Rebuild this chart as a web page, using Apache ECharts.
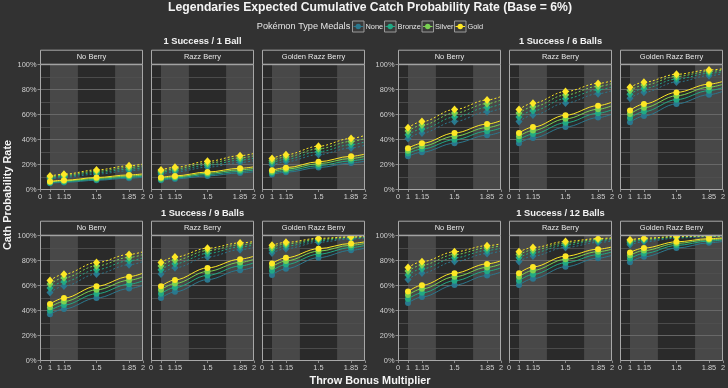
<!DOCTYPE html>
<html><head><meta charset="utf-8">
<script src="https://cdn.jsdelivr.net/npm/echarts@6/dist/echarts.min.js"></script>
<style>html,body{margin:0;padding:0;background:#323232;}#c{width:728px;height:388px;}</style>
</head><body><div id="c"></div>
<script>
const FONT = '"Liberation Sans", Arial, Helvetica, sans-serif';
const chartTitle = 'Legendaries Expected Cumulative Catch Probability Rate (Base = 6%)';
const legendTitle = 'Pokémon Type Medals';
const groupTitles = ['1 Success / 1 Ball', '1 Success / 6 Balls', '1 Success / 9 Balls', '1 Success / 12 Balls'];
const berryNames = ['No Berry', 'Razz Berry', 'Golden Razz Berry'];
const medalNames = ['None', 'Bronze', 'Silver', 'Gold'];
const medalColors = ['#2a788e', '#22a884', '#7ad151', '#fde725'];
const xPoints = [1, 1.15, 1.5, 1.85, 2];
const xTickValues = [0.8925, 1, 1.15, 1.5, 1.85, 2];
const throwBands = [[1, 1.3], [1.7, 2]];

// values in %, [berry][medal][x at 1, 1.15, 1.5, 1.85, 2]
const oneBallSolid = [
  [[5.0, 5.7, 7.4, 9.1, 9.8], [5.5, 6.3, 8.1, 9.9, 10.7], [6.0, 6.9, 8.9, 10.8, 11.6], [6.5, 7.4, 9.6, 11.7, 12.5]],
  [[7.4, 8.5, 10.9, 13.3, 14.3], [8.1, 9.3, 12.0, 14.5, 15.6], [8.9, 10.1, 13.0, 15.8, 16.9], [9.6, 10.9, 14.0, 17.0, 18.2]],
  [[12.1, 13.8, 17.6, 21.2, 22.7], [13.2, 15.0, 19.1, 23.0, 24.7], [14.3, 16.3, 20.7, 24.9, 26.6], [15.4, 17.5, 22.2, 26.6, 28.4]]
];
const oneBallCurve = [
  [[8.4, 9.6, 12.3, 15.0, 16.1], [9.2, 10.5, 13.5, 16.3, 17.5], [10.0, 11.4, 14.6, 17.7, 19.0], [10.8, 12.3, 15.7, 19.0, 20.4]],
  [[12.3, 14.0, 17.9, 21.6, 23.1], [13.5, 15.3, 19.5, 23.5, 25.1], [14.6, 16.6, 21.1, 25.3, 27.0], [15.7, 17.8, 22.6, 27.1, 28.9]],
  [[19.7, 22.3, 28.0, 33.3, 35.5], [21.4, 24.2, 30.3, 35.9, 38.2], [23.1, 26.1, 32.6, 38.5, 40.9], [24.8, 27.9, 34.7, 40.9, 43.4]]
];
const sixBallsSolid = [
  [[26.6, 29.9, 37.1, 43.5, 46.1], [28.8, 32.4, 39.9, 46.7, 49.3], [31.0, 34.7, 42.7, 49.6, 52.4], [33.1, 37.0, 45.3, 52.4, 55.2]],
  [[37.1, 41.3, 50.1, 57.6, 60.4], [39.9, 44.4, 53.5, 61.1, 63.9], [42.7, 47.3, 56.6, 64.3, 67.1], [45.3, 50.0, 59.5, 67.2, 70.0]],
  [[53.8, 58.9, 68.6, 76.0, 78.7], [57.2, 62.4, 72.0, 79.2, 81.7], [60.4, 65.6, 75.1, 82.0, 84.3], [63.4, 68.5, 77.8, 84.4, 86.6]]
];
const sixBallsCurve = [
  [[40.9, 45.3, 54.5, 62.2, 65.0], [43.9, 48.5, 58.0, 65.7, 68.5], [46.8, 51.6, 61.2, 68.8, 71.7], [49.5, 54.4, 64.1, 71.7, 74.5]],
  [[54.5, 59.6, 69.3, 76.7, 79.3], [58.0, 63.1, 72.8, 79.9, 82.3], [61.2, 66.3, 75.8, 82.6, 84.9], [64.1, 69.2, 78.5, 85.0, 87.1]],
  [[73.1, 77.9, 86.1, 91.2, 92.8], [76.4, 81.0, 88.5, 93.1, 94.4], [79.3, 83.7, 90.6, 94.6, 95.7], [81.9, 86.0, 92.3, 95.8, 96.7]]
];
const nineBallsSolid = [
  [[37.1, 41.3, 50.1, 57.6, 60.4], [39.9, 44.4, 53.5, 61.1, 63.9], [42.7, 47.3, 56.6, 64.3, 67.1], [45.3, 50.0, 59.5, 67.2, 70.0]],
  [[50.1, 55.0, 64.8, 72.4, 75.1], [53.5, 58.5, 68.2, 75.7, 78.3], [56.6, 61.7, 71.4, 78.6, 81.1], [59.5, 64.6, 74.2, 81.2, 83.6]],
  [[68.6, 73.6, 82.4, 88.3, 90.1], [72.0, 76.9, 85.2, 90.5, 92.2], [75.1, 79.8, 87.6, 92.4, 93.8], [77.8, 82.3, 89.6, 93.8, 95.1]]
];
const nineBallsCurve = [
  [[54.5, 59.6, 69.3, 76.7, 79.3], [58.0, 63.1, 72.8, 79.9, 82.3], [61.2, 66.3, 75.8, 82.6, 84.9], [64.1, 69.2, 78.5, 85.0, 87.1]],
  [[69.3, 74.3, 83.0, 88.8, 90.6], [72.8, 77.6, 85.8, 91.0, 92.6], [75.8, 80.4, 88.1, 92.7, 94.1], [78.5, 82.9, 90.0, 94.2, 95.3]],
  [[86.1, 89.6, 94.8, 97.4, 98.1], [88.5, 91.7, 96.1, 98.2, 98.7], [90.6, 93.4, 97.1, 98.7, 99.1], [92.3, 94.7, 97.9, 99.1, 99.4]]
];
const twelveBallsSolid = [
  [[46.1, 50.9, 60.4, 68.1, 70.9], [49.3, 54.2, 63.9, 71.6, 74.3], [52.4, 57.4, 67.1, 74.6, 77.3], [55.2, 60.3, 70.0, 77.4, 79.9]],
  [[60.4, 65.6, 75.1, 82.0, 84.3], [63.9, 69.0, 78.3, 84.8, 87.0], [67.1, 72.2, 81.1, 87.2, 89.2], [70.0, 75.0, 83.6, 89.2, 91.0]],
  [[78.7, 83.1, 90.1, 94.3, 95.4], [81.7, 85.8, 92.2, 95.7, 96.7], [84.3, 88.1, 93.8, 96.8, 97.5], [86.6, 90.1, 95.1, 97.6, 98.2]]
];
const twelveBallsCurve = [
  [[65.0, 70.1, 79.3, 85.7, 87.8], [68.5, 73.5, 82.3, 88.2, 90.1], [71.7, 76.5, 84.9, 90.3, 92.0], [74.5, 79.2, 87.1, 92.0, 93.5]],
  [[79.3, 83.7, 90.6, 94.6, 95.7], [82.3, 86.4, 92.6, 96.0, 96.9], [84.9, 88.6, 94.1, 97.0, 97.7], [87.1, 90.5, 95.4, 97.7, 98.3]],
  [[92.8, 95.1, 98.1, 99.2, 99.5], [94.4, 96.4, 98.7, 99.5, 99.7], [95.7, 97.3, 99.1, 99.7, 99.8], [96.7, 98.0, 99.4, 99.8, 99.9]]
];

const groupSolid = [oneBallSolid, sixBallsSolid, nineBallsSolid, twelveBallsSolid];
const groupCurve = [oneBallCurve, sixBallsCurve, nineBallsCurve, twelveBallsCurve];

// layout
const colLeft = [40, 151, 262, 398, 509, 620];
const rowTop = [64.7, 235.7];
const PW = 103, PH = 124.8;
const groupTitleY = [41.5, 41.5, 213, 213];

const grids = [], xAxes = [], yAxes = [], series = [], graphics = [];
const txt = (x, y, text, size, weight, color, extra) => Object.assign({
  type: 'text', x: x, y: y, z: 200, silent: true,
  style: { text: text, fill: color, font: (weight || 'normal') + ' ' + size + 'px ' + FONT,
    align: 'center', verticalAlign: 'middle', textAlign: 'center', textVerticalAlign: 'middle' }
}, extra || {});

let gi = 0;
for (let g = 0; g < 4; g++) {
  const row = g < 2 ? 0 : 1;
  const colBase = (g % 2) * 3;
  const top = rowTop[row];
  graphics.push(txt((colLeft[colBase] + colLeft[colBase + 2] + PW) / 2, groupTitleY[g], groupTitles[g], 9.3, 'bold', '#f2f2f2'));
  for (let b = 0; b < 3; b++) {
    const left = colLeft[colBase + b];
    grids.push({ left: left, top: top, width: PW, height: PH, show: true, backgroundColor: '#2a2a2a', borderWidth: 0 });
    xAxes.push({
      gridIndex: gi, type: 'value', min: xTickValues[0], max: 2, z: 2,
      axisLine: { show: false },
      axisTick: { show: true, length: 2.5, lineStyle: { color: '#a0a0a0', width: 0.8 }, customValues: xTickValues },
      axisLabel: { show: true, customValues: xTickValues, fontSize: 7.4, fontFamily: FONT, color: '#cfcfcf', margin: 3.5,
        showMinLabel: true, showMaxLabel: true,
        formatter: v => (v < 0.95 ? '0' : String(v)) },
      splitLine: { show: false }
    });
    yAxes.push({
      gridIndex: gi, type: 'value', min: 0, max: 100, interval: 20, z: 2,
      axisLine: { show: false },
      axisTick: { show: b === 0, length: 2.5, lineStyle: { color: '#a0a0a0', width: 0.8 } },
      axisLabel: { show: b === 0, formatter: '{value}%', fontSize: 7.4, fontFamily: FONT, color: '#cfcfcf', margin: 3.5 },
      splitLine: { show: true, lineStyle: { color: '#6c6c6c', width: 0.9 } },
      minorTick: { show: false, splitNumber: 2 },
      minorSplitLine: { show: true, lineStyle: { color: '#4f4f4f', width: 0.9 } }
    });
    // throw bands
    series.push({
      type: 'line', xAxisIndex: gi, yAxisIndex: gi, z: 1, silent: true, symbol: 'none',
      data: [[1, 0]], lineStyle: { opacity: 0 },
      markArea: { silent: true, itemStyle: { color: '#484848' },
        data: throwBands.map(r => [{ xAxis: r[0] }, { xAxis: r[1] }]) }
    });
    const mk = (vals, curve, m) => ({
      type: 'line', name: medalNames[m], xAxisIndex: gi, yAxisIndex: gi, z: 3 + m,
      smooth: 0.35, smoothMonotone: 'x', silent: true,
      symbol: curve ? 'diamond' : 'circle', symbolSize: curve ? [7, 8] : 6,
      itemStyle: { color: medalColors[m], borderWidth: 0 },
      lineStyle: { color: medalColors[m], width: 1, type: curve ? [2, 2] : 'solid' },
      data: xPoints.map((x, i) => i < 4 ? [x, vals[i]] : { value: [x, vals[i]], symbol: 'none' })
    });
    for (let m = 0; m < 4; m++) series.push(mk(groupCurve[g][b][m], true, m));
    for (let m = 0; m < 4; m++) series.push(mk(groupSolid[g][b][m], false, m));
    // strip and border
    graphics.push({ type: 'rect', z: 150, silent: true,
      shape: { x: left + 0.5, y: top - 14.5, width: PW - 1, height: 14 },
      style: { fill: '#303030', stroke: '#a8a8a8', lineWidth: 1 } });
    graphics.push(txt(left + PW / 2, top - 7.5, berryNames[b], 7.5, 'normal', '#e6e6e6'));
    graphics.push({ type: 'rect', z: 150, silent: true,
      shape: { x: left + 0.5, y: top, width: PW - 1, height: PH },
      style: { fill: null, stroke: '#a8a8a8', lineWidth: 1 } });
    gi++;
  }
}

// titles
graphics.push(txt(370, 8, chartTitle, 12.2, 'bold', '#f4f4f4'));
graphics.push(txt(370, 381, 'Throw Bonus Multiplier', 10.9, 'bold', '#f4f4f4'));
graphics.push(txt(7.5, 195, 'Cath Probability Rate', 10.9, 'bold', '#f4f4f4', { rotation: Math.PI / 2 }));
// legend
graphics.push(txt(303.5, 26.5, legendTitle, 9.2, 'normal', '#e6e6e6'));
const keyX = [352.5, 384.5, 422, 454.5];
for (let m = 0; m < 4; m++) {
  const kx = keyX[m];
  graphics.push({ type: 'rect', z: 150, silent: true, shape: { x: kx, y: 21, width: 11.5, height: 11 },
    style: { fill: '#3a3a3a', stroke: '#9a9a9a', lineWidth: 1 } });
  graphics.push({ type: 'line', z: 151, silent: true, shape: { x1: kx + 1, y1: 26.5, x2: kx + 10.5, y2: 26.5 },
    style: { stroke: medalColors[m], lineWidth: 1 } });
  graphics.push({ type: 'circle', z: 152, silent: true, shape: { cx: kx + 5.75, cy: 26.5, r: 2.7 },
    style: { fill: medalColors[m] } });
  const t = txt(kx + 13, 26.5, medalNames[m], 7.4, 'normal', '#e6e6e6');
  t.style.align = 'left';
  t.style.textAlign = 'left';
  graphics.push(t);
}

const chart = echarts.init(document.getElementById('c'), null, { renderer: 'canvas' });
chart.setOption({
  backgroundColor: '#323232',
  animation: false,
  grid: grids, xAxis: xAxes, yAxis: yAxes, series: series,
  graphic: { elements: graphics }
});
</script></body></html>
